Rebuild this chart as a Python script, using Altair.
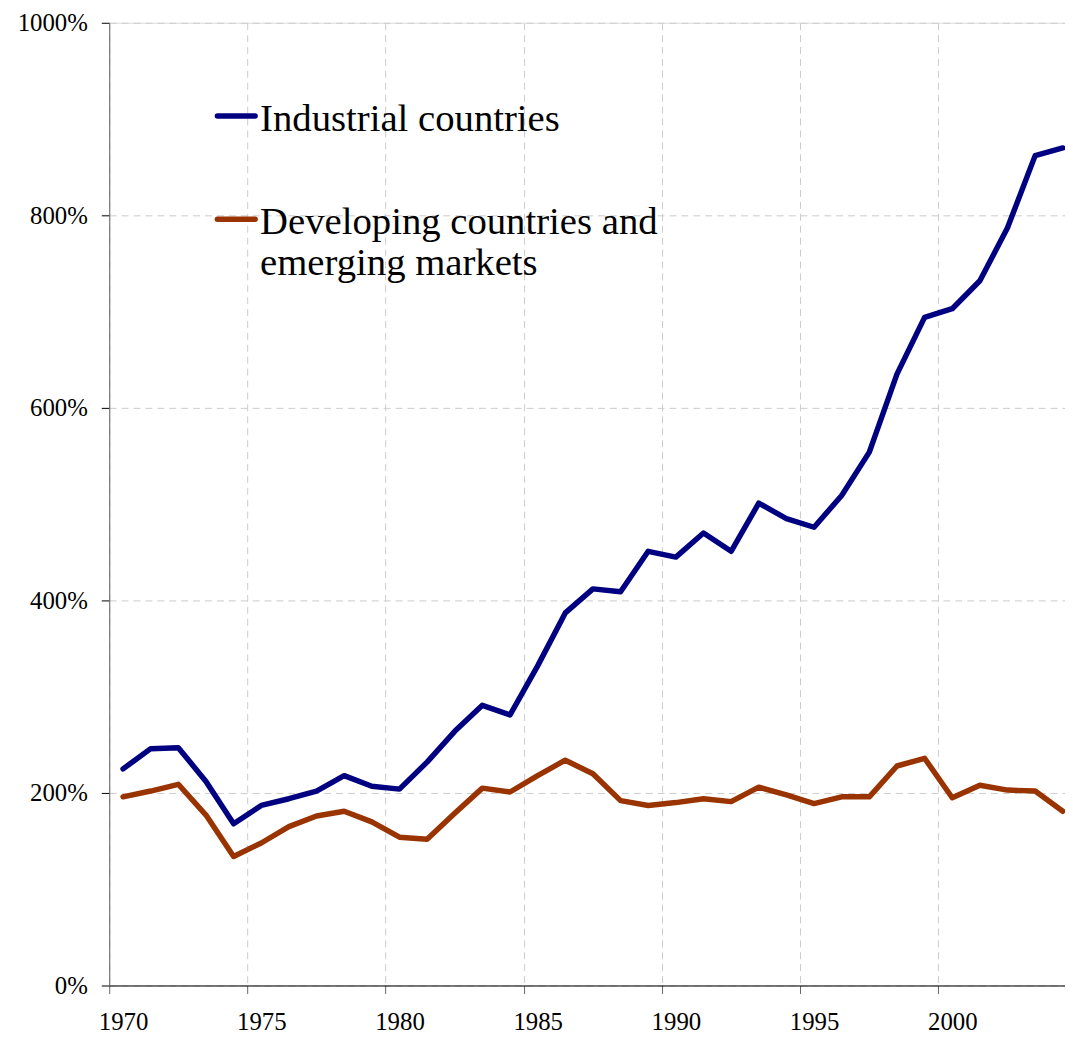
import altair as alt
import pandas as pd

years = list(range(1970, 2005))
industrial = [225, 246, 247, 212, 168, 187, 194, 202, 218, 207, 204, 232, 264, 291, 281,
              332, 387, 412, 409, 451, 445, 470, 451, 501, 485, 476, 509, 554, 635, 694,
              703, 732, 787, 862, 870]
developing = [196, 202, 209, 177, 134, 148, 165, 176, 181, 170, 154, 152, 179, 205, 201,
              218, 234, 220, 192, 187, 190, 194, 191, 206, 198, 189, 196, 196, 228, 236,
              195, 208, 203, 202, 181]
series_names = ["Industrial countries", "Developing countries and emerging markets"]
series_colors = ["#000080", "#993300"]
x_ticks = [1970, 1975, 1980, 1985, 1990, 1995, 2000]
y_ticks = [0, 200, 400, 600, 800, 1000]

rows = []
for y, a, b in zip(years, industrial, developing):
    rows.append({"year": y, "series": series_names[0], "value": a})
    rows.append({"year": y, "series": series_names[1], "value": b})
df = pd.DataFrame(rows)

FONT = "Liberation Serif"

lines = alt.Chart(df).transform_calculate(
    xpos="datum.year + 0.5"
).mark_line(strokeWidth=5.5, strokeCap="round", strokeJoin="round").encode(
    x=alt.X("xpos:Q",
            scale=alt.Scale(domain=[1970, 2004.58], nice=False, zero=False),
            axis=alt.Axis(values=x_ticks, format="d", title=None,
                          labelFont=FONT, labelFontSize=25, labelColor="#000",
                          labelPadding=16, labelOffset=14, labelFlush=False,
                          tickSize=8, tickColor="#666",
                          domainColor="#000", domainWidth=1,
                          grid=True, gridColor="#cccccc", gridDash=[7, 5], gridWidth=1)),
    y=alt.Y("value:Q",
            scale=alt.Scale(domain=[0, 1000], nice=False),
            axis=alt.Axis(values=y_ticks, labelExpr="datum.value + '%'", title=None,
                          labelFont=FONT, labelFontSize=25, labelColor="#000",
                          labelPadding=14, tickSize=8, tickColor="#000",
                          domainColor="#666", domainWidth=1,
                          grid=True, gridColor="#cccccc", gridDash=[7, 5], gridWidth=1)),
    color=alt.Color("series:N", scale=alt.Scale(domain=series_names, range=series_colors),
                    legend=None),
    detail="series:N",
)

leg_df1 = pd.DataFrame({"label": ["Industrial countries"]})
leg_df2 = pd.DataFrame({"label": ["Developing countries and\nemerging markets"]})

leg_rule1 = alt.Chart(leg_df1).mark_rule(color=series_colors[0], strokeWidth=5.5, strokeCap="round").encode(
    x=alt.value(109), x2=alt.value(147), y=alt.value(94))
leg_text1 = alt.Chart(leg_df1).mark_text(align="left", baseline="alphabetic", font=FONT,
                                         fontSize=39, color="#000").encode(
    x=alt.value(152), y=alt.value(109), text="label:N")
leg_rule2 = alt.Chart(leg_df2).mark_rule(color=series_colors[1], strokeWidth=5.5, strokeCap="round").encode(
    x=alt.value(109), x2=alt.value(147), y=alt.value(198))
leg_text2 = alt.Chart(leg_df2).mark_text(align="left", baseline="alphabetic", font=FONT,
                                         fontSize=39, color="#000", lineBreak="\n",
                                         lineHeight=41).encode(
    x=alt.value(152), y=alt.value(213), text="label:N")

chart = alt.layer(lines, leg_rule1, leg_text1, leg_rule2, leg_text2).properties(
    width=963, height=970,
    autosize=alt.AutoSizeParams(type="none"),
    padding={"left": 102, "top": 11, "right": 0, "bottom": 48},
).configure_view(stroke=None).configure_axis(
    labelFont=FONT
).configure_text(font=FONT).configure(background="white")

chart.save("out.html", embed_options={"renderer": "svg", "actions": False})
